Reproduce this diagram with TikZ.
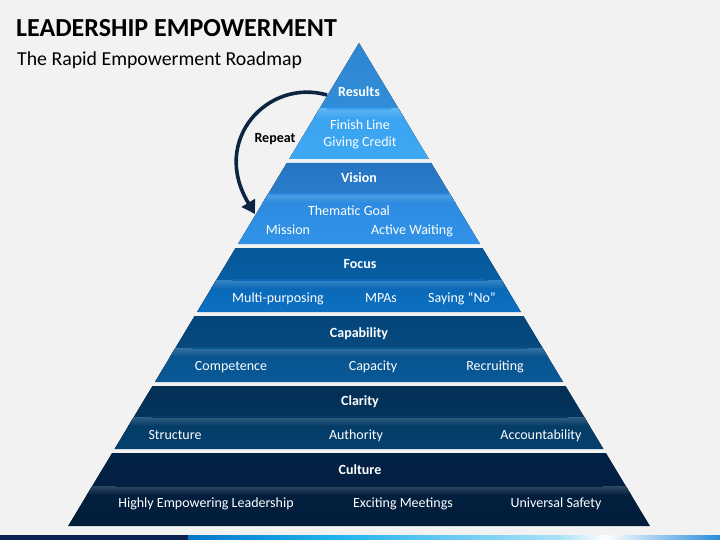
\documentclass[tikz,border=0pt]{standalone}
\usepackage{fontspec}
\setmainfont{Carlito}
\usetikzlibrary{arrows.meta}
\definecolor{bg}{HTML}{F2F2F2}
\definecolor{navy}{HTML}{0B2542}
\definecolor{strip}{HTML}{0B2152}
\definecolor{rA}{HTML}{2F86D1}\definecolor{rB}{HTML}{308DD9}\definecolor{rC}{HTML}{3BA3F0}\definecolor{rD}{HTML}{3DA8F4}
\definecolor{vA}{HTML}{2675C3}\definecolor{vB}{HTML}{2A7CCB}\definecolor{vC}{HTML}{2C8ADF}\definecolor{vD}{HTML}{3092E8}
\definecolor{fA}{HTML}{065898}\definecolor{fB}{HTML}{075EA4}\definecolor{fC}{HTML}{0A68B6}\definecolor{fD}{HTML}{0C70C2}
\definecolor{cA}{HTML}{04457A}\definecolor{cB}{HTML}{054A80}\definecolor{cC}{HTML}{07538D}\definecolor{cD}{HTML}{095998}
\definecolor{lA}{HTML}{032F55}\definecolor{lB}{HTML}{03345C}\definecolor{lC}{HTML}{043B66}\definecolor{lD}{HTML}{06406E}
\definecolor{uA}{HTML}{022246}\definecolor{uB}{HTML}{022042}\definecolor{uC}{HTML}{021F3E}\definecolor{uD}{HTML}{021E3B}
\newcommand{\pyrlayer}[5]{%
  \begin{scope}
    \clip ({359-0.602*(#1-43)},#1) -- ({359+0.602*(#1-43)},#1) -- ({359+0.602*(#3-43)},#3) -- ({359-0.602*(#3-43)},#3) -- cycle;
    \fill[top color=#4A,bottom color=#4B] (0,#1) rectangle (720,#2);
    \fill[top color=#4C,bottom color=#4D] (0,#2) rectangle (720,#3);
    \fill[top color=#4C!82!white,bottom color=#4C] (0,#2) rectangle (720,{#2+9});
    \fill[left color=#4C,middle color=white,right color=#4C] ({359-0.5*#5},{#2-0.9}) rectangle ({359+0.5*#5},{#2+0.9});
  \end{scope}}
\tikzset{
  ttl/.style={font=\bfseries\fontsize{14}{16}\selectfont,text=white,inner sep=0pt,text height=11pt,text depth=1pt},
  itm/.style={font=\fontsize{14}{16}\selectfont,text=white,inner sep=0pt,text height=11pt,text depth=1pt},
}
\begin{document}
\begin{tikzpicture}[x=1pt,y=-1pt]
\useasboundingbox (0,0) rectangle (720,540);
\fill[bg] (0,0) rectangle (720,540);
% title
\node[anchor=base west,inner sep=0pt,font=\bfseries\fontsize{26}{30}\selectfont] (title) at (16,37) {LEADERSHIP EMPOWERMENT};
\node[anchor=base west,inner sep=0pt,font=\fontsize{19.8}{24}\selectfont] (sub) at (17,66) {The Rapid Empowerment Roadmap};
% pyramid layers: top, separator, bottom, color prefix, separator width
\pyrlayer{43}{109}{159}{r}{64}
\pyrlayer{163}{194}{244}{v}{180}
\pyrlayer{248}{280}{312}{f}{255}
\pyrlayer{316}{348}{382}{c}{335}
\pyrlayer{386}{417}{449}{l}{415}
\pyrlayer{453}{486}{526}{u}{485}
% texts
\node[ttl] (results) at (359,92) {Results};
\node[itm] (finish) at (360,125) {Finish Line};
\node[itm] (credit) at (360,142) {Giving Credit};
\node[ttl] (vision) at (359,178) {Vision};
\node[itm] (thematic) at (349,210) {Thematic Goal};
\node[itm] (mission) at (288,229) {Mission};
\node[itm] (waiting) at (412,229) {Active Waiting};
\node[ttl] (focus) at (360,263) {Focus};
\node[itm] (multi) at (278,297) {Multi-purposing};
\node[itm] (mpas) at (381,297) {MPAs};
\node[itm] (saying) at (462,297) {Saying “No”};
\node[ttl] (capab) at (359,332) {Capability};
\node[itm] (compet) at (231,365) {Competence};
\node[itm] (capac) at (373,365) {Capacity};
\node[itm] (recru) at (495,365) {Recruiting};
\node[ttl] (clarity) at (360,400) {Clarity};
\node[itm] (struct) at (175,434) {Structure};
\node[itm] (author) at (356,434) {Authority};
\node[itm] (accou) at (541,434) {Accountability};
\node[ttl] (culture) at (360,469) {Culture};
\node[itm] (highly) at (206,502) {Highly Empowering Leadership};
\node[itm] (exciting) at (403,502) {Exciting Meetings};
\node[itm] (safety) at (556,502) {Universal Safety};
% repeat arrow
\coordinate (rs) at (327,95);
\coordinate (re) at (255,214);
\draw[navy,line width=3.6pt,-{Triangle[length=13pt,width=15pt]}] (rs) .. controls (268,78) and (210,140) .. (re);
\node[font=\bfseries\fontsize{14}{16}\selectfont,inner sep=0pt,text height=11pt,text depth=1pt] (repeat) at (275,138) {Repeat};
% bottom strip
\fill[strip] (0,535) rectangle (188,540);
\shade[left color={rgb,255:red,8;green,118;blue,200},right color={rgb,255:red,30;green,176;blue,238}] (188,535) rectangle (330,540);
\shade[left color={rgb,255:red,30;green,176;blue,238},right color={rgb,255:red,170;green,226;blue,248}] (330,535) rectangle (560,540);
\shade[left color={rgb,255:red,170;green,226;blue,248},right color=white] (560,535) rectangle (605,540);
\shade[left color=white,right color={rgb,255:red,40;green,140;blue,220}] (605,535) rectangle (720,540);
\end{tikzpicture}
\end{document}
